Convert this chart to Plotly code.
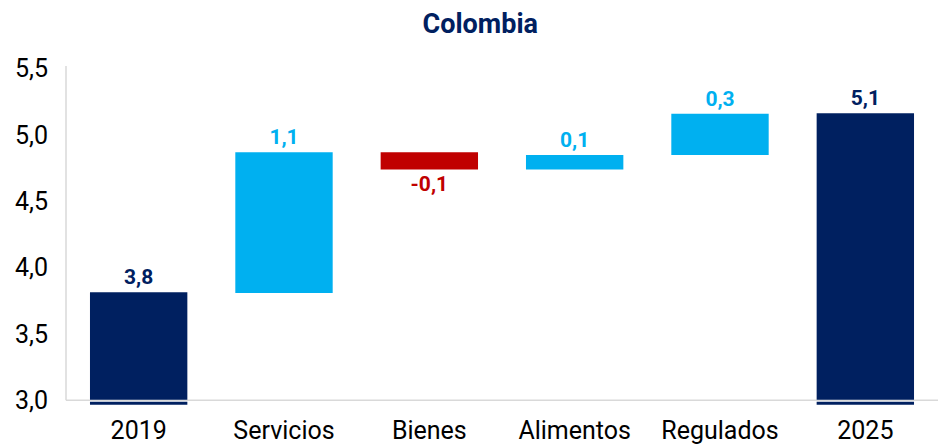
import plotly.graph_objects as go

# waterfall: inflation 2019 -> 2025, contributions by component
categories = ["2019", "Servicios", "Bienes", "Alimentos", "Regulados", "2025"]
start_value = 3.81
changes = [1.06, -0.13, 0.11, 0.31]
labels = ["3,8", "1,1", "-0,1", "0,1", "0,3", "5,1"]

NAVY = "#002060"
LIGHT = "#00B0F0"
RED = "#C00000"
AXIS_MIN = 3.0

end_value = start_value + sum(changes)

# bases / heights for the floating bars
bases = [AXIS_MIN]
heights = [start_value - AXIS_MIN]
running = start_value
for c in changes:
    bases.append(running)
    heights.append(c)
    running += c
bases.append(AXIS_MIN)
heights.append(end_value - AXIS_MIN)

colors = [NAVY] + [LIGHT if c >= 0 else RED for c in changes] + [NAVY]

fig = go.Figure()

# small foot under the total bars (they run just past the axis)
is_total = [True] + [False] * len(changes) + [True]
fig.add_trace(go.Bar(
    x=categories,
    y=[0.022 if t else None for t in is_total],
    base=[AXIS_MIN - 0.033 if t else None for t in is_total],
    marker=dict(color=NAVY, line=dict(width=0)),
    hoverinfo="skip",
    showlegend=False,
))

fig.add_trace(go.Bar(
    x=categories,
    y=heights,
    base=[b + 0.004 if t else b for b, t in zip(bases, is_total)],
    marker=dict(color=colors, line=dict(width=0)),
    text=labels,
    textposition="outside",
    textfont=dict(family="Roboto", size=21, color=colors, weight="bold"),
    cliponaxis=False,
    showlegend=False,
))

# axis lines
fig.add_shape(type="line", xref="paper", yref="y", x0=0, x1=1, y0=AXIS_MIN, y1=AXIS_MIN,
              line=dict(color="#D9D9D9", width=1.5), layer="below")
fig.add_shape(type="line", xref="paper", yref="y", x0=0, x1=0, y0=AXIS_MIN, y1=5.52,
              line=dict(color="#D9D9D9", width=1.5), layer="below")

fig.update_layout(
    width=938, height=447,
    margin=dict(l=66, r=0, t=66, b=42),
    plot_bgcolor="white", paper_bgcolor="white",
    barmode="overlay", bargap=0.33,
    separators=",.",
    font=dict(family="Roboto", color="#000000"),
    title=dict(text="<b>Colombia</b>", x=0.512, xanchor="center", y=0.948, yanchor="middle",
               font=dict(family="Roboto", size=27, color=NAVY)),
)
fig.update_xaxes(showline=False, showgrid=False, ticks="", automargin=False,
                 tickfont=dict(size=25, color="#000000"), ticklabelstandoff=8)
fig.update_yaxes(range=[2.965, 5.52], tickvals=[3.0, 3.5, 4.0, 4.5, 5.0, 5.5], tickformat=".1f",
                 showline=False, showgrid=False, zeroline=False, ticks="", automargin=False,
                 tickfont=dict(size=25, color="#000000"), ticklabelstandoff=17)

fig.write_html("out.html", config={"displayModeBar": False},
               post_script="document.body.style.margin='0';")
